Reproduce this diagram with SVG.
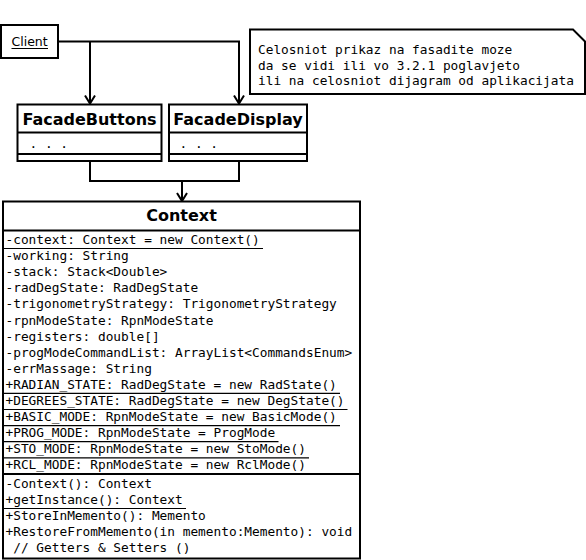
<svg xmlns="http://www.w3.org/2000/svg" width="586" height="560" viewBox="0 0 586 560">
<style>
.box{fill:#fff;stroke:#000;stroke-width:2}
.sep{stroke:#000;stroke-width:2}
.ln{fill:none;stroke:#000;stroke-width:2}
.ul{stroke:#000;stroke-width:1.2}
.mono{font-family:"DejaVu Sans Mono",monospace;font-size:12.8px;fill:#000}
.title{font-family:"DejaVu Sans",sans-serif;font-weight:bold;font-size:16px;text-anchor:middle;fill:#000}
.sans{font-family:"DejaVu Sans",sans-serif;font-size:12.5px;fill:#000}
</style>
<defs>
<marker id="arr" markerUnits="userSpaceOnUse" markerWidth="14" markerHeight="14" viewBox="-12 -7 14 14" refX="0" refY="0" orient="auto" overflow="visible">
<path d="M-8,-5 L0,0 L-8,5" fill="none" stroke="#000" stroke-width="2"/>
</marker>
</defs>
<rect width="586" height="560" fill="#fff"/>

<g id="connectors">
<path class="ln" d="M58,41.5 H239 V103.5" marker-end="url(#arr)"/>
<path class="ln" d="M90,41.5 V103.5" marker-end="url(#arr)"/>
<path class="ln" d="M90,161 V181 H239 V161"/>
<path class="ln" d="M182,181 V201" marker-end="url(#arr)"/>
</g>

<g id="client">
<rect class="box" x="1" y="25" width="57" height="33"/>
<text class="sans" x="11.5" y="45.5">Client</text>
<line class="ul" x1="11.5" y1="48.5" x2="48" y2="48.5"/>
</g>

<g id="note">
<path class="box" d="M250,29.5 L573,29.5 L585,41.5 L585,94 L250,94 Z"/>
<text class="mono" x="258" y="54">Celosniot prikaz na fasadite moze</text>
<text class="mono" x="258" y="69.5">da se vidi ili vo 3.2.1 poglavjeto</text>
<text class="mono" x="258" y="85">ili na celosniot dijagram od aplikacijata</text>
</g>

<g id="facadeButtons">
<rect class="box" x="17.5" y="104.5" width="144" height="56.5"/>
<line class="sep" x1="17.5" y1="132.5" x2="161.5" y2="132.5"/>
<line class="sep" x1="17.5" y1="154" x2="161.5" y2="154"/>
<text class="title" x="89.5" y="124.5">FacadeButtons</text>
<text class="mono" x="29.5" y="148">. . .</text>
</g>

<g id="facadeDisplay">
<rect class="box" x="169" y="104.5" width="138" height="56.5"/>
<line class="sep" x1="169" y1="132.5" x2="307" y2="132.5"/>
<line class="sep" x1="169" y1="154" x2="307" y2="154"/>
<text class="title" x="238" y="124.5">FacadeDisplay</text>
<text class="mono" x="179.5" y="148">. . .</text>
</g>

<g id="context">
<rect class="box" x="3" y="201.5" width="357" height="357"/>
<line class="sep" x1="3" y1="230.5" x2="360" y2="230.5"/>
<line class="sep" x1="3" y1="474" x2="360" y2="474"/>
<text class="title" x="181.5" y="221">Context</text>
<text class="mono" x="5.5" y="244">-context: Context = new Context()</text>
<text class="mono" x="5.5" y="260.1">-working: String</text>
<text class="mono" x="5.5" y="276.2">-stack: Stack&lt;Double&gt;</text>
<text class="mono" x="5.5" y="292.3">-radDegState: RadDegState</text>
<text class="mono" x="5.5" y="308.4">-trigonometryStrategy: TrigonometryStrategy</text>
<text class="mono" x="5.5" y="324.5">-rpnModeState: RpnModeState</text>
<text class="mono" x="5.5" y="340.6">-registers: double[]</text>
<text class="mono" x="5.5" y="356.7">-progModeCommandList: ArrayList&lt;CommandsEnum&gt;</text>
<text class="mono" x="5.5" y="372.8">-errMassage: String</text>
<text class="mono" x="5.5" y="388.9">+RADIAN_STATE: RadDegState = new RadState()</text>
<text class="mono" x="5.5" y="405">+DEGREES_STATE: RadDegState = new DegState()</text>
<text class="mono" x="5.5" y="421.1">+BASIC_MODE: RpnModeState = new BasicMode()</text>
<text class="mono" x="5.5" y="437.2">+PROG_MODE: RpnModeState = ProgMode</text>
<text class="mono" x="5.5" y="453.3">+STO_MODE: RpnModeState = new StoMode()</text>
<text class="mono" x="5.5" y="469.4">+RCL_MODE: RpnModeState = new RclMode()</text>
<line class="ul" x1="3" y1="248.5" x2="263" y2="248.5"/>
<line class="ul" x1="3" y1="393.4" x2="340" y2="393.4"/>
<line class="ul" x1="3" y1="409.5" x2="347.5" y2="409.5"/>
<line class="ul" x1="3" y1="425.6" x2="340" y2="425.6"/>
<line class="ul" x1="3" y1="441.7" x2="278.5" y2="441.7"/>
<line class="ul" x1="3" y1="457.8" x2="309" y2="457.8"/>
<text class="mono" x="5.5" y="488">-Context(): Context</text>
<text class="mono" x="5.5" y="504">+getInstance(): Context</text>
<text class="mono" x="5.5" y="520">+StoreInMemento(): Memento</text>
<text class="mono" x="5.5" y="536">+RestoreFromMemento(in memento:Memento): void</text>
<text class="mono" x="13.2" y="552">// Getters &amp; Setters ()</text>
<line class="ul" x1="3" y1="508.5" x2="186" y2="508.5"/>
</g>
</svg>
